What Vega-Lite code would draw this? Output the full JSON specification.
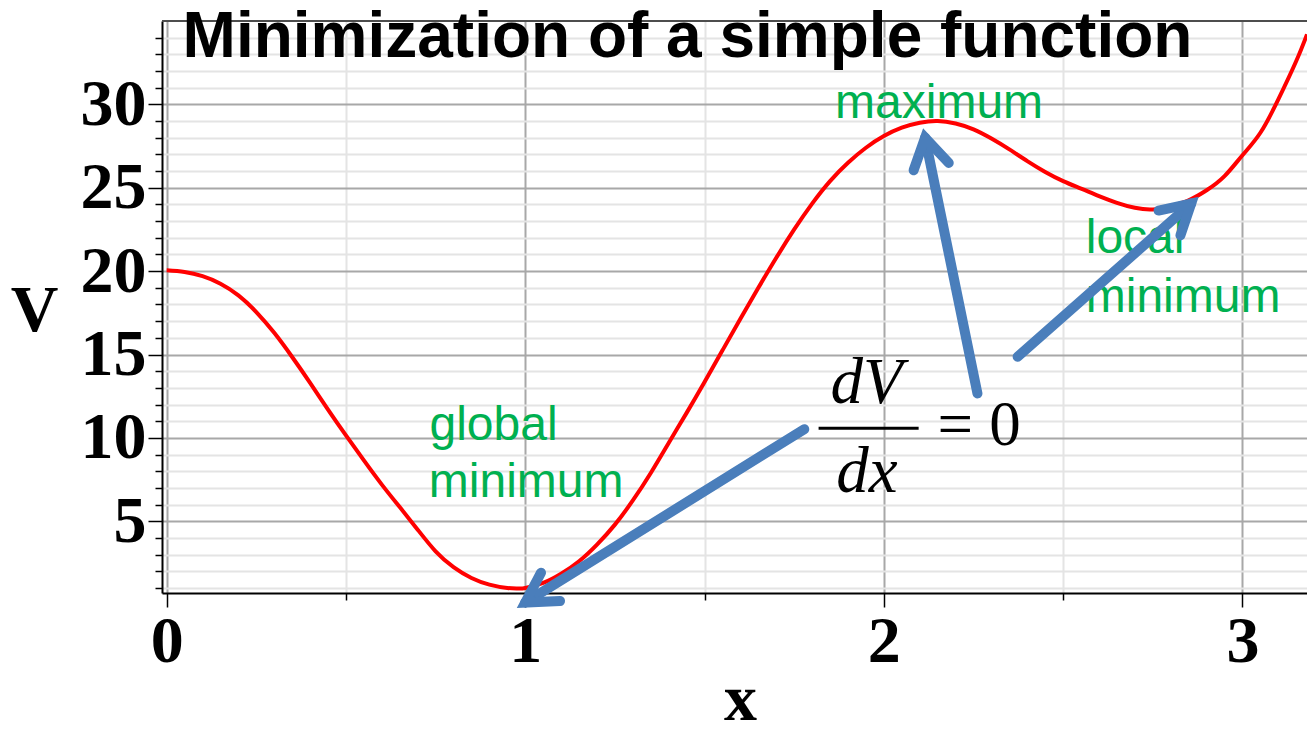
{
  "$schema": "https://vega.github.io/schema/vega-lite/v6.json",
  "autosize": {"type": "none"},
  "padding": {"left": 162, "top": 21, "right": 0, "bottom": 140},
  "width": 1145,
  "height": 572,
  "background": "white",
  "config": {"view": {"stroke": null}},
  "title": {
    "text": "Minimization of a simple function",
    "font": "Liberation Sans",
    "fontSize": 64,
    "fontWeight": "bold",
    "color": "#000000",
    "anchor": "middle",
    "frame": "group",
    "baseline": "alphabetic",
    "offset": -63,
    "dx": -47,
    "dy": 38
  },
  "resolve": {"axis": {"x": "independent", "y": "independent"}},
  "datasets": {
    "curve": [
      {"x": 0.0, "V": 20.05}, {"x": 0.05, "V": 19.95}, {"x": 0.1, "V": 19.7}, {"x": 0.15, "V": 19.25},
      {"x": 0.2, "V": 18.55}, {"x": 0.25, "V": 17.55}, {"x": 0.3, "V": 16.3}, {"x": 0.35, "V": 14.85},
      {"x": 0.4, "V": 13.3}, {"x": 0.45, "V": 11.7}, {"x": 0.5, "V": 10.15}, {"x": 0.55, "V": 8.65},
      {"x": 0.6, "V": 7.2}, {"x": 0.65, "V": 5.85}, {"x": 0.7, "V": 4.5}, {"x": 0.75, "V": 3.2},
      {"x": 0.8, "V": 2.25}, {"x": 0.85, "V": 1.6}, {"x": 0.9, "V": 1.2}, {"x": 0.95, "V": 1.0},
      {"x": 0.98, "V": 0.97}, {"x": 1.0, "V": 1.0}, {"x": 1.05, "V": 1.3}, {"x": 1.1, "V": 1.85},
      {"x": 1.15, "V": 2.6}, {"x": 1.2, "V": 3.6}, {"x": 1.25, "V": 4.8}, {"x": 1.3, "V": 6.25},
      {"x": 1.35, "V": 7.9}, {"x": 1.4, "V": 9.7}, {"x": 1.45, "V": 11.5}, {"x": 1.5, "V": 13.35},
      {"x": 1.55, "V": 15.25}, {"x": 1.6, "V": 17.15}, {"x": 1.65, "V": 19.0}, {"x": 1.7, "V": 20.8},
      {"x": 1.75, "V": 22.5}, {"x": 1.8, "V": 24.05}, {"x": 1.85, "V": 25.4}, {"x": 1.9, "V": 26.5},
      {"x": 1.95, "V": 27.4}, {"x": 2.0, "V": 28.1}, {"x": 2.05, "V": 28.6}, {"x": 2.1, "V": 28.9},
      {"x": 2.15, "V": 29.0}, {"x": 2.2, "V": 28.85}, {"x": 2.25, "V": 28.5}, {"x": 2.3, "V": 27.95},
      {"x": 2.35, "V": 27.3}, {"x": 2.4, "V": 26.6}, {"x": 2.45, "V": 25.95}, {"x": 2.5, "V": 25.4},
      {"x": 2.55, "V": 24.95}, {"x": 2.6, "V": 24.5}, {"x": 2.65, "V": 24.1}, {"x": 2.7, "V": 23.8},
      {"x": 2.75, "V": 23.7}, {"x": 2.8, "V": 23.9}, {"x": 2.85, "V": 24.25}, {"x": 2.9, "V": 24.85},
      {"x": 2.95, "V": 25.7}, {"x": 3.0, "V": 26.95}, {"x": 3.05, "V": 28.3}, {"x": 3.1, "V": 30.3},
      {"x": 3.15, "V": 32.6}, {"x": 3.18, "V": 34.2}
    ],
    "arrows": [
      {"seg": "a1s", "k": 0, "x": 1.778, "V": 10.52}, {"seg": "a1s", "k": 1, "x": 1.0, "V": 0.13},
      {"seg": "a1h", "k": 0, "x": 1.044, "V": 1.92}, {"seg": "a1h", "k": 1, "x": 1.0, "V": 0.13}, {"seg": "a1h", "k": 2, "x": 1.097, "V": 0.22},
      {"seg": "a2s", "k": 0, "x": 2.261, "V": 12.67}, {"seg": "a2s", "k": 1, "x": 2.115, "V": 28.0},
      {"seg": "a2h", "k": 0, "x": 2.083, "V": 26.05}, {"seg": "a2h", "k": 1, "x": 2.115, "V": 28.0}, {"seg": "a2h", "k": 2, "x": 2.181, "V": 26.49},
      {"seg": "a3s", "k": 0, "x": 2.373, "V": 14.87}, {"seg": "a3s", "k": 1, "x": 2.857, "V": 24.05},
      {"seg": "a3h", "k": 0, "x": 2.766, "V": 23.63}, {"seg": "a3h", "k": 1, "x": 2.857, "V": 24.05}, {"seg": "a3h", "k": 2, "x": 2.827, "V": 22.15}
    ],
    "frac": [{"x": 1.818, "x2": 2.097, "V": 10.58}],
    "eqItalic": [
      {"t": "dV", "x": 1.952, "V": 12.08},
      {"t": "dx", "x": 1.953, "V": 6.77}
    ],
    "eqRoman": [
      {"t": "=", "x": 2.199, "V": 9.575},
      {"t": "0", "x": 2.338, "V": 9.575}
    ],
    "labels": [
      {"t": "maximum", "x": 1.864, "V": 29.2},
      {"t": "global", "x": 0.733, "V": 9.87},
      {"t": "minimum", "x": 0.731, "V": 6.44},
      {"t": "local", "x": 2.563, "V": 21.07},
      {"t": "minimum", "x": 2.563, "V": 17.57}
    ],
    "top": [{"V": 35}]
  },
  "layer": [
    {
      "data": {"name": "curve"},
      "mark": {"type": "line", "color": "#ff0000", "strokeWidth": 4, "interpolate": "natural"},
      "encoding": {
        "x": {
          "field": "x", "type": "quantitative",
          "scale": {"domain": [-0.013, 3.18], "nice": false, "zero": false},
          "axis": {
            "orient": "bottom",
            "values": [0.5, 1.5, 2.5],
            "title": null,
            "labels": false,
            "domain": false,
            "grid": true, "gridColor": "#e4e4e4", "gridWidth": 2,
            "ticks": true, "tickColor": "#000000", "tickWidth": 1.5, "tickSize": 7
          }
        },
        "y": {
          "field": "V", "type": "quantitative",
          "scale": {"domain": [0.7, 35], "nice": false, "zero": false},
          "axis": {
            "orient": "left",
            "values": [1, 2, 3, 4, 6, 7, 8, 9, 11, 12, 13, 14, 16, 17, 18, 19, 21, 22, 23, 24, 26, 27, 28, 29, 31, 32, 33, 34],
            "title": null,
            "labels": false,
            "domain": false,
            "grid": true, "gridColor": "#e4e4e4", "gridWidth": 2,
            "ticks": true, "tickColor": "#000000", "tickWidth": 1.5, "tickSize": 7
          }
        }
      }
    },
    {
      "data": {"name": "top"},
      "mark": {"type": "rule", "color": "#4d4d4d", "strokeWidth": 2},
      "encoding": {"y": {"field": "V", "type": "quantitative", "axis": null}}
    },
    {
      "data": {"name": "labels"},
      "mark": {"type": "text", "font": "Liberation Sans", "fontSize": 48, "color": "#00b050", "align": "left", "baseline": "alphabetic"},
      "encoding": {
        "x": {"field": "x", "type": "quantitative", "axis": null},
        "y": {"field": "V", "type": "quantitative", "axis": null},
        "text": {"field": "t"}
      }
    },
    {
      "data": {"name": "arrows"},
      "mark": {"type": "line", "color": "#4a7ebb", "strokeWidth": 10, "strokeCap": "round", "strokeJoin": "miter"},
      "encoding": {
        "x": {
          "field": "x", "type": "quantitative",
          "axis": {
            "orient": "bottom",
            "values": [0, 1, 2, 3],
            "format": "d",
            "title": "x",
            "grid": true, "gridColor": "#a8a8a8", "gridWidth": 2,
            "domainColor": "#000000", "domainWidth": 2,
            "tickColor": "#000000", "tickWidth": 1.5, "tickSize": 14,
            "labelFont": "Liberation Serif", "labelFontWeight": "bold", "labelFontSize": 66,
            "labelColor": "#000000", "labelPadding": 2, "labelFlush": false, "labelOverlap": false,
            "titleFont": "Liberation Serif", "titleFontWeight": "bold", "titleFontSize": 66,
            "titleColor": "#000000", "titleX": 578, "titleY": 126, "titleAlign": "center", "titleBaseline": "alphabetic"
          }
        },
        "y": {
          "field": "V", "type": "quantitative",
          "axis": {
            "orient": "left",
            "values": [5, 10, 15, 20, 25, 30],
            "format": "d",
            "title": "V",
            "grid": true, "gridColor": "#a8a8a8", "gridWidth": 2,
            "domainColor": "#000000", "domainWidth": 2,
            "tickColor": "#000000", "tickWidth": 1.5, "tickSize": 14,
            "labelFont": "Liberation Serif", "labelFontWeight": "bold", "labelFontSize": 66,
            "labelColor": "#000000", "labelPadding": 2, "labelOverlap": false,
            "titleFont": "Liberation Serif", "titleFontWeight": "bold", "titleFontSize": 66,
            "titleColor": "#000000", "titleAngle": 0, "titleX": -128, "titleY": 309, "titleAlign": "center", "titleBaseline": "alphabetic"
          }
        },
        "detail": {"field": "seg"},
        "order": {"field": "k"}
      }
    },
    {
      "data": {"name": "frac"},
      "mark": {"type": "rule", "color": "#000000", "strokeWidth": 3},
      "encoding": {
        "x": {"field": "x", "type": "quantitative", "axis": null},
        "x2": {"field": "x2"},
        "y": {"field": "V", "type": "quantitative", "axis": null}
      }
    },
    {
      "data": {"name": "eqItalic"},
      "mark": {"type": "text", "font": "Liberation Serif", "fontStyle": "italic", "fontSize": 65, "color": "#000000", "align": "center", "baseline": "alphabetic"},
      "encoding": {
        "x": {"field": "x", "type": "quantitative", "axis": null},
        "y": {"field": "V", "type": "quantitative", "axis": null},
        "text": {"field": "t"}
      }
    },
    {
      "data": {"name": "eqRoman"},
      "mark": {"type": "text", "font": "Liberation Serif", "fontSize": 63, "color": "#000000", "align": "center", "baseline": "alphabetic"},
      "encoding": {
        "x": {"field": "x", "type": "quantitative", "axis": null},
        "y": {"field": "V", "type": "quantitative", "axis": null},
        "text": {"field": "t"}
      }
    }
  ]
}
